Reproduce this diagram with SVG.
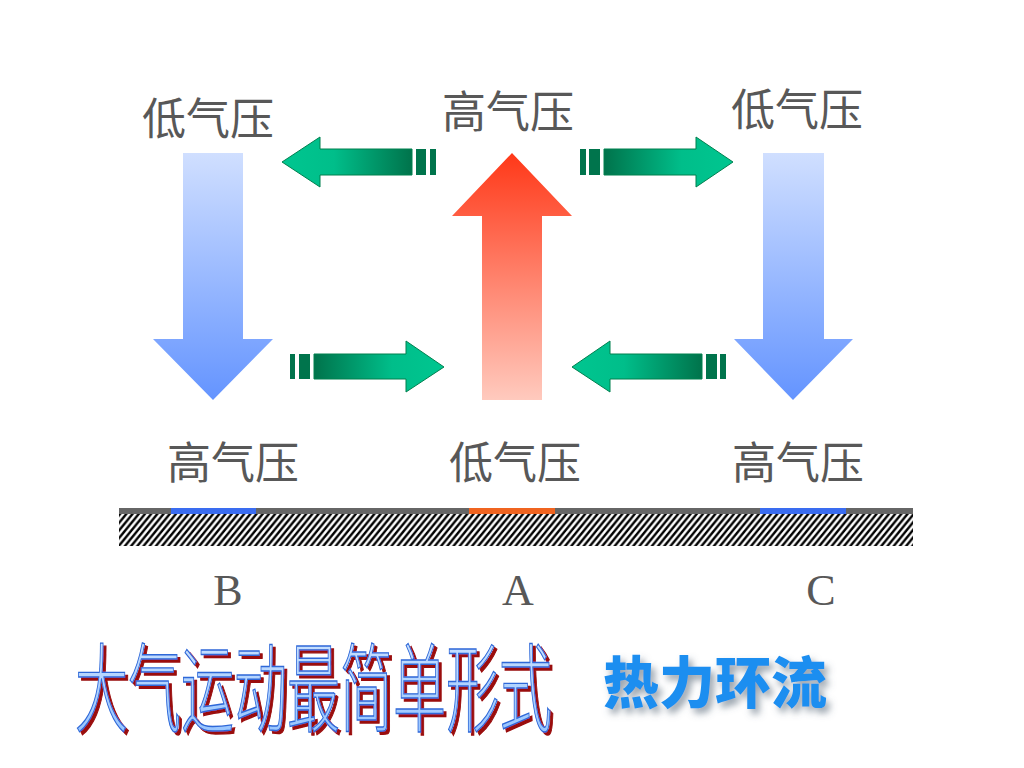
<svg xmlns="http://www.w3.org/2000/svg" width="1024" height="768" viewBox="0 0 1024 768">
<style>
.lbl{font-family:"Noto Sans CJK SC","Noto Sans",sans-serif;font-size:44px;fill:#585858}
.let{font-family:"Liberation Serif",serif;font-size:44px;fill:#585858;text-anchor:middle}
.bar{fill:#00744c}
.garrow{stroke:#00804f;stroke-width:1}
</style>
<defs>
<linearGradient id="blueG" x1="0" y1="0" x2="0" y2="1">
<stop offset="0" stop-color="#d0dfff"/>
<stop offset="1" stop-color="#6494ff"/>
</linearGradient>
<linearGradient id="redG" x1="0" y1="0" x2="0" y2="1">
<stop offset="0" stop-color="#ff3818"/>
<stop offset="1" stop-color="#ffcabe"/>
</linearGradient>
<linearGradient id="greenL" x1="0" y1="0" x2="1" y2="0">
<stop offset="0" stop-color="#00c690"/>
<stop offset="0.4" stop-color="#00be8a"/>
<stop offset="1" stop-color="#00734b"/>
</linearGradient>
<linearGradient id="greenR" x1="1" y1="0" x2="0" y2="0">
<stop offset="0" stop-color="#00c690"/>
<stop offset="0.4" stop-color="#00be8a"/>
<stop offset="1" stop-color="#00734b"/>
</linearGradient>
<linearGradient id="titleG" x1="0" y1="0" x2="0" y2="1">
<stop offset="0" stop-color="#d6e8ff"/>
<stop offset="1" stop-color="#8fc0ff"/>
</linearGradient>
<pattern id="hatch" patternUnits="userSpaceOnUse" width="6.2" height="7.6">
<path d="M-1.24,9.12 L7.44,-1.52 M-1.24,1.52 L1.24,-1.52 M4.96,9.12 L7.44,6.08" stroke="#000" stroke-width="2.4"/>
</pattern>
<filter id="soft" x="-10%" y="-20%" width="120%" height="150%">
<feGaussianBlur in="SourceAlpha" stdDeviation="3.5"/>
<feOffset dx="4" dy="5" result="b"/>
<feFlood flood-color="#556677" flood-opacity="0.6"/>
<feComposite in2="b" operator="in" result="s"/>
<feMerge><feMergeNode in="s"/><feMergeNode in="SourceGraphic"/></feMerge>
</filter>
<filter id="deep" x="-5%" y="-10%" width="110%" height="120%">
<feOffset in="SourceAlpha" dx="3" dy="3" result="o"/>
<feFlood flood-color="#9a1010"/>
<feComposite in2="o" operator="in" result="s"/>
<feMerge><feMergeNode in="s"/><feMergeNode in="SourceGraphic"/></feMerge>
</filter>
</defs>
<rect width="1024" height="768" fill="#fff"/>

<g id="ground">
<rect x="119" y="514" width="794" height="32" fill="url(#hatch)"/>
<rect x="119" y="508" width="794" height="6" fill="#666"/>
<rect x="171" y="508" width="85" height="6" fill="#3a6cf0"/>
<rect x="469" y="508" width="86" height="6" fill="#f06420"/>
<rect x="760" y="508" width="86" height="6" fill="#3a6cf0"/>
</g>

<g id="down-left">
<polygon points="183,153 243,153 243,339 273,339 213,400 153,339 183,339" fill="url(#blueG)"/>
</g>
<g id="up-center">
<polygon points="512,153 572,216 542,216 542,400 482,400 482,216 452,216" fill="url(#redG)"/>
</g>
<g id="down-right">
<polygon points="763,153 824,153 824,339 853,339 793,400 734,339 763,339" fill="url(#blueG)"/>
</g>

<g id="connectors">
<g id="top-left-flow">
<polygon class="garrow" points="282,162 320,137 320,149 412,149 412,175 320,175 320,187" fill="url(#greenL)"/>
<rect class="bar" x="416" y="149" width="10" height="26"/>
<rect class="bar" x="430" y="149" width="6" height="26"/>
</g>
<g id="top-right-flow">
<rect class="bar" x="580" y="149" width="6" height="26"/>
<rect class="bar" x="589" y="149" width="11" height="26"/>
<polygon class="garrow" points="733,162 696,137 696,149 604,149 604,175 696,175 696,187" fill="url(#greenR)"/>
</g>
<g id="bottom-left-flow">
<rect class="bar" x="290" y="354" width="5" height="25"/>
<rect class="bar" x="299" y="354" width="11" height="25"/>
<polygon class="garrow" points="444,367 406,341 406,354 314,354 314,379 406,379 406,392" fill="url(#greenR)"/>
</g>
<g id="bottom-right-flow">
<polygon class="garrow" points="572,367 610,341 610,354 702,354 702,379 610,379 610,392" fill="url(#greenL)"/>
<rect class="bar" x="706" y="354" width="11" height="25"/>
<rect class="bar" x="720" y="354" width="6" height="25"/>
</g>
</g>

<g id="labels">
<text class="lbl" x="142" y="135">低气压</text>
<text class="lbl" x="442" y="128">高气压</text>
<text class="lbl" x="731" y="126">低气压</text>
<text class="lbl" x="167" y="479">高气压</text>
<text class="lbl" x="449" y="479">低气压</text>
<text class="lbl" x="732" y="479">高气压</text>
<text class="let" x="228" y="605">B</text>
<text class="let" x="518" y="605">A</text>
<text class="let" x="821" y="605">C</text>
</g>

<g id="title" filter="url(#deep)">
<text transform="translate(75,724) scale(1,1.82)" x="0" y="0" font-family="Noto Sans CJK SC, sans-serif" font-size="53" font-weight="200" fill="url(#titleG)" stroke="#2f68d8" stroke-width="0.8">大气运动最简单形式</text>
</g>

<g id="subtitle" filter="url(#soft)">
<text x="603" y="703" font-family="Noto Sans CJK SC, sans-serif" font-size="56" font-weight="900" fill="#1e8ef0">热力环流</text>
</g>
</svg>
